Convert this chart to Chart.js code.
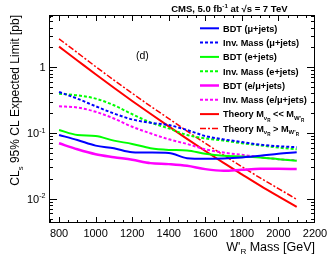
<!DOCTYPE html>
<html>
<head>
<meta charset="utf-8">
<script src="https://cdn.jsdelivr.net/npm/chart.js@4.4.0/dist/chart.umd.min.js"></script>
<style>
  body { margin: 0; background: #fff; }
  canvas { display: block; }
</style>
</head>
<body>
<canvas id="chart" width="332" height="258"></canvas>
<script>
// W'_R mass points (GeV)
const masses = [800, 900, 1000, 1100, 1200, 1300, 1400, 1500, 1600, 1700, 1800, 1900, 2000, 2100];

// expected limits [pb]
const bdtMu = [0.0933, 0.0784, 0.0644, 0.0587, 0.0511, 0.0505, 0.0499, 0.0415, 0.0405, 0.0410, 0.0425, 0.0450, 0.0483, 0.0511];
const invMassMu = [0.42, 0.333, 0.255, 0.198, 0.161, 0.143, 0.132, 0.111, 0.0901, 0.0800, 0.0730, 0.0665, 0.0630, 0.0608];
const bdtE = [0.111, 0.0933, 0.0901, 0.0766, 0.0683, 0.0587, 0.0554, 0.0542, 0.0483, 0.0450, 0.0440, 0.0425, 0.0401, 0.0379];
const invMassE = [0.396, 0.374, 0.333, 0.264, 0.193, 0.145, 0.1175, 0.0933, 0.083, 0.0768, 0.0700, 0.0650, 0.0600, 0.0567];
const bdtEMu = [0.0698, 0.0567, 0.0477, 0.0430, 0.0392, 0.0349, 0.0337, 0.0318, 0.0283, 0.0267, 0.0277, 0.0286, 0.0286, 0.0283];
const invMassEMu = [0.255, 0.244, 0.210, 0.166, 0.1245, 0.0989, 0.0803, 0.0683, 0.0567, 0.0505, 0.0466, 0.0430, 0.0401, 0.0383];
const theoryLight = [2.05, 1.265, 0.780, 0.486, 0.307, 0.196, 0.126, 0.0817, 0.0533, 0.0352, 0.0236, 0.0159, 0.0109, 0.00753];
const theoryHeavy = [2.69, 1.66, 1.02, 0.637, 0.402, 0.256, 0.166, 0.107, 0.0698, 0.0461, 0.0308, 0.0208, 0.0143, 0.00986];

const xTickLabels = [800, 1000, 1200, 1400, 1600, 1800, 2000, 2200];
const yTickLabels = [[1, '1', ''], [0.1, '10', '-1'], [0.01, '10', '-2']];

const FONT = '"Liberation Sans", Arial, Helvetica, sans-serif';

function pts(vals) {
  return masses.map((m, i) => ({ x: m, y: vals[i] }));
}

function series(label, vals, color, dash, width) {
  return {
    label,
    data: pts(vals),
    borderColor: color,
    backgroundColor: color,
    borderWidth: width || 2,
    borderDash: dash || [],
    pointRadius: 0,
    fill: false,
    cubicInterpolationMode: 'monotone'
  };
}

const DOT = [3, 2];
const DASHDOT = [6, 2, 2, 2];

// legend entries: [dataset index, text parts]
// a part is [text, kind] where kind: '' normal, 'sub', 'subsub', 'sup'
const legendRows = [
  [0, [['BDT (\u03bc+jets)', '']]],
  [1, [['Inv. Mass (\u03bc+jets)', '']]],
  [2, [['BDT (e+jets)', '']]],
  [3, [['Inv. Mass (e+jets)', '']]],
  [4, [['BDT (e/\u03bc+jets)', '']]],
  [5, [['Inv. Mass (e/\u03bc+jets)', '']]],
  [6, [['Theory M', ''], ['\u03bd', 'sub'], ['R', 'subsub'], [' << M', ''], ["W'", 'sub'], ['R', 'subsub']]],
  [7, [['Theory M', ''], ['\u03bd', 'sub'], ['R', 'subsub'], [' > M', ''], ["W'", 'sub'], ['R', 'subsub']]]
];

// draws text made of parts with sub/superscripts, left aligned at x
function richText(ctx, parts, x, y, size, bold) {
  const w = bold ? 'bold ' : '';
  let cx = x;
  parts.forEach(([t, kind]) => {
    let s = size, dy = 0;
    if (kind === 'sub') { s = size * 0.65; dy = size * 0.3; }
    if (kind === 'subsub') { s = size * 0.5; dy = size * 0.45; }
    if (kind === 'sup') { s = size * 0.65; dy = -size * 0.4; }
    ctx.font = w + s + 'px ' + FONT;
    ctx.fillText(t, cx, y + dy);
    cx += ctx.measureText(t).width;
  });
  return cx - x;
}

function richWidth(ctx, parts, size, bold) {
  const w = bold ? 'bold ' : '';
  let total = 0;
  parts.forEach(([t, kind]) => {
    let s = size;
    if (kind === 'sub' || kind === 'sup') s = size * 0.65;
    if (kind === 'subsub') s = size * 0.5;
    ctx.font = w + s + 'px ' + FONT;
    total += ctx.measureText(t).width;
  });
  return total;
}

const framePlugin = {
  id: 'frame',
  afterDatasetsDraw(chart) {
    const ctx = chart.ctx;
    const a = chart.chartArea;
    const xs = chart.scales.x;
    const ys = chart.scales.y;
    ctx.save();
    ctx.strokeStyle = '#000';
    ctx.fillStyle = '#000';
    ctx.lineWidth = 1;

    // frame
    ctx.strokeRect(a.left + 0.5, a.top + 0.5, a.right - a.left - 1, a.bottom - a.top - 1);

    // x ticks (inward, bottom and top)
    ctx.beginPath();
    for (let v = 750; v <= 2200; v += 50) {
      const px = Math.round(xs.getPixelForValue(v)) + 0.5;
      if (px < a.left || px > a.right) continue;
      const len = v % 200 === 0 ? 6 : 3;
      ctx.moveTo(px, a.bottom);
      ctx.lineTo(px, a.bottom - len);
      ctx.moveTo(px, a.top);
      ctx.lineTo(px, a.top + len);
    }
    // y ticks (inward, left and right)
    for (let k = -3; k <= 0; k++) {
      for (let m = 1; m <= 9; m++) {
        const v = m * Math.pow(10, k);
        if (v < ys.min || v > ys.max) continue;
        const py = Math.round(ys.getPixelForValue(v)) + 0.5;
        const len = m === 1 ? 8 : 4;
        ctx.moveTo(a.left, py);
        ctx.lineTo(a.left + len, py);
        ctx.moveTo(a.right, py);
        ctx.lineTo(a.right - len, py);
      }
    }
    ctx.stroke();

    // x tick labels
    ctx.font = '11px ' + FONT;
    ctx.textAlign = 'center';
    ctx.textBaseline = 'alphabetic';
    xTickLabels.forEach(v => {
      ctx.fillText(String(v), xs.getPixelForValue(v), 236.5);
    });

    // y tick labels
    ctx.textAlign = 'left';
    yTickLabels.forEach(([v, base, exp]) => {
      const py = ys.getPixelForValue(v);
      const parts = [[base, '']];
      if (exp) parts.push([exp, 'sup']);
      const w = richWidth(ctx, parts, 11, false);
      richText(ctx, parts, 45.5 - w, py + 4, 11, false);
    });

    // x axis title, right aligned with the frame
    const xt = [["W'", ''], ['R', 'sub'], [' Mass [GeV]', '']];
    const xw = richWidth(ctx, xt, 12.5, false);
    richText(ctx, xt, a.right - xw, 250.5, 12.5, false);

    // y axis title, rotated, right aligned with the top of the frame
    const yt = [['CL', ''], ['s', 'sub'], [' 95% CL Expected Limit [pb]', '']];
    const yw = richWidth(ctx, yt, 12, false);
    ctx.save();
    ctx.translate(19, a.top + yw);
    ctx.rotate(-Math.PI / 2);
    richText(ctx, yt, 0, 0, 12, false);
    ctx.restore();

    // header
    const head = [['CMS, 5.0 fb', ''], ['-1', 'sup'], [' at \u221As = 7 TeV', '']];
    const hw = richWidth(ctx, head, 9.5, true);
    richText(ctx, head, 287.5 - hw, 12, 9.5, true);

    // panel label
    ctx.font = '10.5px ' + FONT;
    ctx.fillText('(d)', 136, 59);

    // legend
    legendRows.forEach(([idx, parts], r) => {
      const ds = chart.data.datasets[idx];
      const y = 28.3 + r * 14.3;
      ctx.save();
      ctx.strokeStyle = ds.borderColor;
      ctx.lineWidth = ds.borderWidth;
      ctx.setLineDash(ds.borderDash);
      ctx.beginPath();
      ctx.moveTo(200, y);
      ctx.lineTo(219, y);
      ctx.stroke();
      ctx.restore();
      richText(ctx, parts, 223, y + 3.3, 9.2, true);
    });

    ctx.restore();
  }
};

new Chart(document.getElementById('chart'), {
  type: 'line',
  data: {
    datasets: [
      series('BDT (\u03bc+jets)', bdtMu, '#0000ff', [], 2),
      series('Inv. Mass (\u03bc+jets)', invMassMu, '#0000ff', DOT, 2),
      series('BDT (e+jets)', bdtE, '#00ff00', [], 2),
      series('Inv. Mass (e+jets)', invMassE, '#00ff00', DOT, 2),
      series('BDT (e/\u03bc+jets)', bdtEMu, '#ff00ff', [], 2.5),
      series('Inv. Mass (e/\u03bc+jets)', invMassEMu, '#ff00ff', DOT, 2),
      series('Theory light', theoryLight, '#ff0000', [], 2),
      series('Theory heavy', theoryHeavy, '#ff0000', DASHDOT, 1.5)
    ]
  },
  options: {
    responsive: false,
    devicePixelRatio: 1,
    animation: false,
    layout: { padding: { left: 49, right: 17, top: 15, bottom: 35 } },
    plugins: { legend: { display: false }, tooltip: { enabled: false } },
    scales: {
      x: { type: 'linear', min: 745, max: 2200, display: false },
      y: { type: 'logarithmic', min: 0.0043, max: 6.2, display: false }
    }
  },
  plugins: [framePlugin]
});
</script>
</body>
</html>
